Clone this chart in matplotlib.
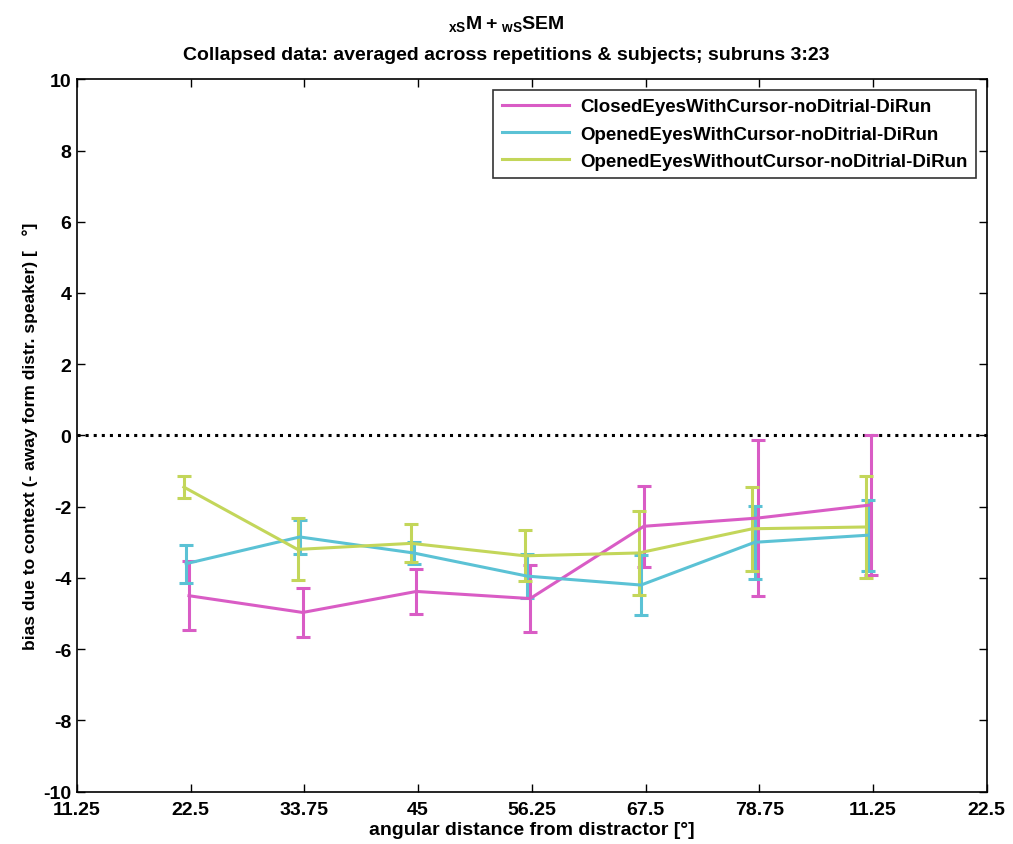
import numpy as np
import matplotlib
matplotlib.use("Agg")
import matplotlib.pyplot as plt
from matplotlib.lines import Line2D

plt.rcParams['font.family'] = ['Liberation Sans', 'DejaVu Sans']
plt.rcParams['font.weight'] = 'bold'
plt.rcParams['axes.unicode_minus'] = False
plt.rcParams['mathtext.fontset'] = 'custom'
plt.rcParams['mathtext.rm'] = 'Liberation Sans:bold'
plt.rcParams['mathtext.bf'] = 'Liberation Sans:bold'

# tick labels as they were set (they wrap around after 78.75)
tick_labels = ['11.25', '22.5', '33.75', '45', '56.25', '67.5', '78.75', '11.25', '22.5']
conditions = ['ClosedEyesWithCursor-noDitrial-DiRun',
              'OpenedEyesWithCursor-noDitrial-DiRun',
              'OpenedEyesWithoutCursor-noDitrial-DiRun']

# mean bias and SEM per distance bin (bins 2..8)
closed_cursor_mean = [-4.50, -4.97, -4.38, -4.58, -2.55, -2.32, -1.95]
closed_cursor_sem = [0.97, 0.69, 0.63, 0.93, 1.14, 2.20, 1.96]
open_cursor_mean = [-3.60, -2.85, -3.30, -3.95, -4.20, -3.00, -2.80]
open_cursor_sem = [0.53, 0.47, 0.30, 0.62, 0.85, 1.02, 1.00]
open_nocursor_mean = [-1.45, -3.20, -3.03, -3.38, -3.30, -2.62, -2.57]
open_nocursor_sem = [0.30, 0.87, 0.53, 0.72, 1.18, 1.18, 1.42]

colors = ['#D95CC5', '#5BC2D5', '#C3D65A']
dodge = [-0.015, -0.04, -0.06]

x = np.arange(2, 9)

fig = plt.figure(figsize=(10.13, 8.45), dpi=100)
ax = fig.add_axes([0.076, 0.062, 0.898, 0.843])

series = [(closed_cursor_mean, closed_cursor_sem),
          (open_cursor_mean, open_cursor_sem),
          (open_nocursor_mean, open_nocursor_sem)]
handles = []
for (m, s), c, d, name in zip(series, colors, dodge, conditions):
    ax.errorbar(x + d, m, yerr=s, color=c, lw=2.2, elinewidth=2.2,
                capsize=5, capthick=2.2)
    handles.append(Line2D([], [], color=c, lw=2.2, label=name))

ax.plot([1, 9], [0, 0], color='black', ls=':', lw=2.2, zorder=1)

ax.set_xlim(1, 9)
ax.set_ylim(-10, 10)
ax.set_xticks(np.arange(1, 10))
ax.set_xticklabels(tick_labels)
ax.set_yticks(np.arange(-10, 11, 2))
ax.tick_params(direction='in', top=True, right=True, length=6, width=1,
               labelsize=14)
ax.tick_params(axis='x', pad=7)
ax.tick_params(axis='y', pad=4)
for lab in ax.get_xticklabels() + ax.get_yticklabels():
    lab.set_fontweight('bold')
for sp in ax.spines.values():
    sp.set_linewidth(1.2)

ax.set_xlabel('angular distance from distractor [°]', fontsize=14,
              fontweight='bold', labelpad=2)
ax.set_ylabel('bias due to context (- away form distr. speaker) [   °]',
              fontsize=12.5, fontweight='bold', labelpad=4)

fig.text(0.5, 0.971, r'${}_{\mathbf{xS}}\mathbf{M+}{}_{\mathbf{wS}}\mathbf{SEM}$',
         ha='center', va='center', fontsize=14)
fig.text(0.5, 0.934, 'Collapsed data: averaged across repetitions & subjects; subruns 3:23',
         ha='center', va='center', fontsize=14, fontweight='bold')

leg = ax.legend(handles=handles, loc='upper right', fontsize=13.5, frameon=True,
                fancybox=False, edgecolor='black', borderaxespad=0.55,
                handlelength=3.6, handletextpad=0.6, labelspacing=0.55,
                borderpad=0.45)
leg.get_frame().set_linewidth(1.2)
for t in leg.get_texts():
    t.set_fontweight('bold')

fig.savefig('out.png', dpi=100)
